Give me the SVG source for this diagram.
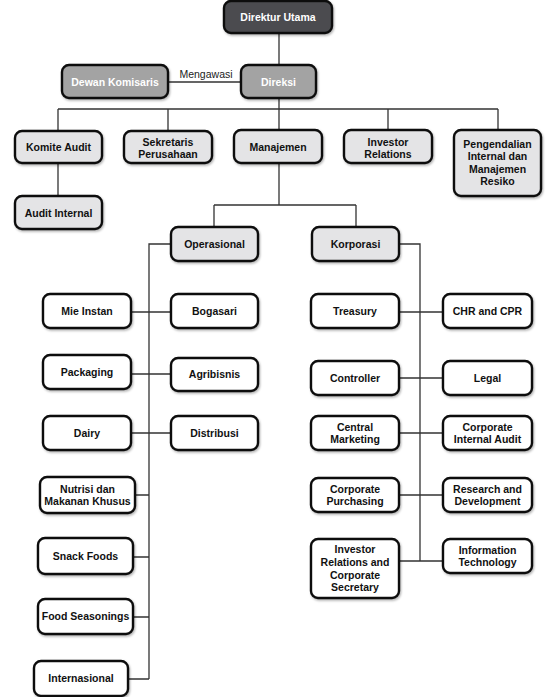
<svg xmlns="http://www.w3.org/2000/svg" width="556" height="697" viewBox="0 0 556 697">
<defs>
<filter id="sh" x="-10%" y="-10%" width="130%" height="140%">
<feDropShadow dx="1" dy="1.5" stdDeviation="1" flood-color="#000" flood-opacity="0.3"/>
</filter>
<style>
.box{stroke:#111;stroke-width:2.4;filter:url(#sh)}
.lt{fill:#e4e4e6}
.wh{fill:#ffffff}
.dk{fill:#4b4c50}
.gr{fill:#a3a3a3}
text{font-family:"Liberation Sans",Arial,Helvetica,sans-serif;font-size:10.5px;font-weight:bold;text-anchor:middle;fill:#111}
.wt{fill:#ffffff}
.lbl{font-weight:normal;fill:#222}
.con{stroke:#333;stroke-width:1.3;fill:none}
</style>
</defs>
<rect width="556" height="697" fill="#ffffff"/>
<g id="connectors">
<path class="con" d="M279,33V65M168,82H241M279,98V109M58,109H498M58,109V131M168,109V131M279,109V130M388,109V130M498,109V130"/>
<path class="con" d="M58,163V196M279,163V205M214,205H356M214,205V227M356,205V227"/>
<path class="con" d="M171,244H149V679M131,312H171M131,374H171M131,433H171M135,495H149M133,557H149M133,617H149M128,679H149"/>
<path class="con" d="M399,244H420V561M399,312H443M399,378H443M399,433H443M399,495H443M399,561H443"/>
<text class="lbl" x="206" y="78">Mengawasi</text>
</g>
<g id="direktur-utama"><rect class="box dk" x="224" y="1" width="108" height="32" rx="7"/><text class="wt" x="278" y="21">Direktur Utama</text></g>
<g id="dewan-komisaris"><rect class="box gr" x="62" y="65" width="106" height="33" rx="7"/><text class="wt" x="115" y="85.5">Dewan Komisaris</text></g>
<g id="direksi"><rect class="box gr" x="241" y="65" width="75" height="33" rx="7"/><text class="wt" x="278.5" y="85.5">Direksi</text></g>
<g id="komite-audit"><rect class="box lt" x="15" y="131" width="87" height="32" rx="7"/><text x="58.5" y="151">Komite Audit</text></g>
<g id="sekretaris"><rect class="box lt" x="124" y="131" width="88" height="32" rx="7"/><text x="168" y="145.5">Sekretaris</text><text x="168" y="157.5">Perusahaan</text></g>
<g id="manajemen"><rect class="box lt" x="234" y="130" width="88" height="33" rx="7"/><text x="278" y="150.5">Manajemen</text></g>
<g id="investor-relations"><rect class="box lt" x="344" y="130" width="88" height="33" rx="7"/><text x="388" y="145.5">Investor</text><text x="388" y="157.5">Relations</text></g>
<g id="pengendalian"><rect class="box lt" x="454" y="130" width="87" height="66" rx="7"/><text x="497.5" y="147.5">Pengendalian</text><text x="497.5" y="160.2">Internal dan</text><text x="497.5" y="172.8">Manajemen</text><text x="497.5" y="185.4">Resiko</text></g>
<g id="audit-internal"><rect class="box lt" x="15" y="196" width="87" height="33" rx="7"/><text x="58.5" y="216.5">Audit Internal</text></g>
<g id="operasional"><rect class="box lt" x="171" y="227" width="87" height="34" rx="7"/><text x="214.5" y="247.8">Operasional</text></g>
<g id="korporasi"><rect class="box lt" x="312" y="227" width="87" height="34" rx="7"/><text x="355.5" y="247.8">Korporasi</text></g>
<g id="mie-instan"><rect class="box wh" x="43" y="294" width="88" height="34" rx="7"/><text x="87" y="314.8">Mie Instan</text></g>
<g id="bogasari"><rect class="box wh" x="171" y="294" width="87" height="34" rx="7"/><text x="214.5" y="314.8">Bogasari</text></g>
<g id="packaging"><rect class="box wh" x="43" y="355" width="88" height="34" rx="7"/><text x="87" y="375.8">Packaging</text></g>
<g id="agribisnis"><rect class="box wh" x="171" y="358" width="87" height="33" rx="7"/><text x="214.5" y="378.3">Agribisnis</text></g>
<g id="dairy"><rect class="box wh" x="43" y="416" width="88" height="34" rx="7"/><text x="87" y="436.8">Dairy</text></g>
<g id="distribusi"><rect class="box wh" x="171" y="416" width="87" height="34" rx="7"/><text x="214.5" y="436.8">Distribusi</text></g>
<g id="nutrisi"><rect class="box wh" x="40" y="477" width="95" height="36" rx="7"/><text x="87.5" y="492.5">Nutrisi dan</text><text x="87.5" y="505.1">Makanan Khusus</text></g>
<g id="snack-foods"><rect class="box wh" x="38" y="538" width="95" height="36" rx="7"/><text x="85.5" y="559.8">Snack Foods</text></g>
<g id="food-seasonings"><rect class="box wh" x="38" y="599" width="95" height="35" rx="7"/><text x="85.5" y="620.3">Food Seasonings</text></g>
<g id="internasional"><rect class="box wh" x="34" y="661" width="94" height="35" rx="7"/><text x="81" y="682.3">Internasional</text></g>
<g id="treasury"><rect class="box wh" x="311" y="294" width="88" height="34" rx="7"/><text x="355" y="314.8">Treasury</text></g>
<g id="chr-cpr"><rect class="box wh" x="443" y="294" width="89" height="34" rx="7"/><text x="487.5" y="314.8">CHR and CPR</text></g>
<g id="controller"><rect class="box wh" x="311" y="361" width="88" height="34" rx="7"/><text x="355" y="381.8">Controller</text></g>
<g id="legal"><rect class="box wh" x="443" y="361" width="89" height="34" rx="7"/><text x="487.5" y="381.8">Legal</text></g>
<g id="central-marketing"><rect class="box wh" x="311" y="416" width="88" height="34" rx="7"/><text x="355" y="430.5">Central</text><text x="355" y="443.1">Marketing</text></g>
<g id="corporate-internal-audit"><rect class="box wh" x="443" y="416" width="89" height="34" rx="7"/><text x="487.5" y="430.5">Corporate</text><text x="487.5" y="443.1">Internal Audit</text></g>
<g id="corporate-purchasing"><rect class="box wh" x="311" y="478" width="88" height="34" rx="7"/><text x="355" y="492.5">Corporate</text><text x="355" y="505.1">Purchasing</text></g>
<g id="research-development"><rect class="box wh" x="443" y="478" width="89" height="34" rx="7"/><text x="487.5" y="492.5">Research and</text><text x="487.5" y="505.1">Development</text></g>
<g id="investor-relations-cs"><rect class="box wh" x="311" y="539" width="88" height="59" rx="7"/><text x="355" y="553.4">Investor</text><text x="355" y="566">Relations and</text><text x="355" y="578.6">Corporate</text><text x="355" y="591.2">Secretary</text></g>
<g id="information-technology"><rect class="box wh" x="443" y="539" width="89" height="34" rx="7"/><text x="487.5" y="553.5">Information</text><text x="487.5" y="566.1">Technology</text></g>
</svg>
